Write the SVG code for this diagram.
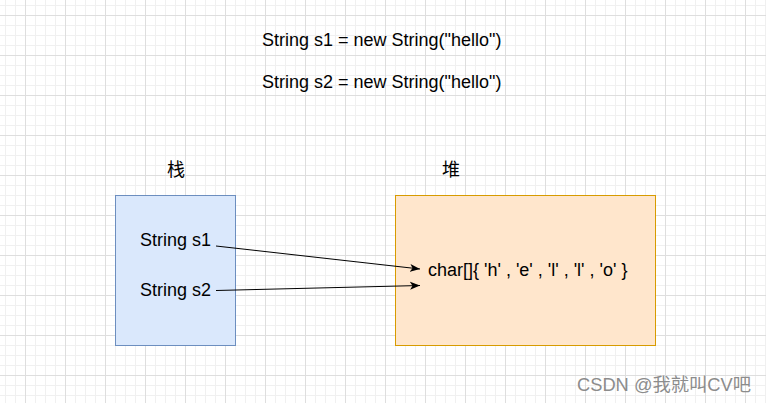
<svg xmlns="http://www.w3.org/2000/svg" width="766" height="403" viewBox="0 0 766 403">
  <defs>
    <pattern id="minor" x="5" y="5" width="10" height="10" patternUnits="userSpaceOnUse">
      <path d="M 0 0.5 H 10 M 0.5 0 V 10" fill="none" stroke="#f0f0f0" stroke-width="1"/>
    </pattern>
    <pattern id="major" x="25" y="15" width="40" height="40" patternUnits="userSpaceOnUse">
      <path d="M 0 0.5 H 40 M 0.5 0 V 40" fill="none" stroke="#dedede" stroke-width="1"/>
    </pattern>
    <marker id="arrow" viewBox="0 0 10 10" refX="10" refY="5" markerWidth="10" markerHeight="10" markerUnits="userSpaceOnUse" orient="auto">
      <path d="M0,1 L10,5 L0,9 L2.5,5 Z" fill="#000"/>
    </marker>
    <style>
      .t { font-family: "Liberation Sans", Arial, "Noto Sans CJK SC", sans-serif; font-size: 18px; fill: #000; }
      .cjk { font-family: "Noto Sans CJK SC", sans-serif; font-size: 18px; fill: #000; }
      .edge { fill: none; stroke: #000; stroke-width: 1; marker-end: url(#arrow); }
      .wm { font-family: "Liberation Sans", Arial, "Noto Sans CJK SC", sans-serif; font-size: 18.3px; fill: #8c8c8c; }
    </style>
  </defs>
  <rect width="766" height="403" fill="#ffffff"/>
  <rect width="766" height="403" fill="url(#minor)"/>
  <rect width="766" height="403" fill="url(#major)"/>

  <g id="title">
    <text class="t" x="262" y="46">String s1 = new String("hello")</text>
    <text class="t" x="262" y="88">String s2 = new String("hello")</text>
  </g>

  <g id="stack">
    <text class="cjk" x="176" y="176" text-anchor="middle">栈</text>
    <rect x="115.5" y="195.5" width="120" height="150" fill="#dae8fc" stroke="#6c8ebf"/>
    <text class="t" x="140" y="246">String s1</text>
    <text class="t" x="140" y="296">String s2</text>
  </g>

  <g id="heap">
    <text class="cjk" x="451" y="176" text-anchor="middle">堆</text>
    <rect x="395.5" y="195.5" width="260" height="150" fill="#ffe6cc" stroke="#d79b00"/>
    <text class="t" x="428" y="276">char[]{ 'h' , 'e' , 'l' , 'l' , 'o' }</text>
  </g>

  <g id="connectors">
    <path class="edge" d="M 216 246 L 420 269"/>
    <path class="edge" d="M 216 290.5 L 420 285.5"/>
  </g>

  <text class="wm" x="577" y="391">CSDN @我就叫CV吧</text>
</svg>
